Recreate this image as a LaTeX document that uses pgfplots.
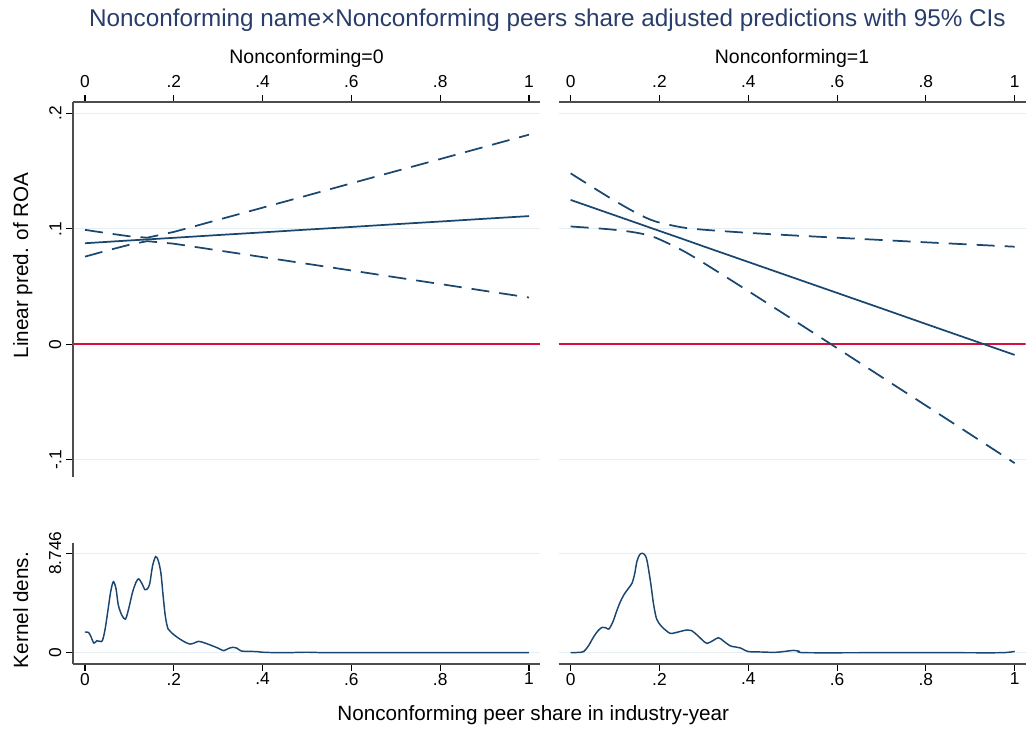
\documentclass[border=0pt]{standalone}
\usepackage{fontspec}
\setmainfont{Liberation Sans}
\usepackage{pgfplots}
\pgfplotsset{compat=1.18}
\definecolor{navy}{HTML}{1A476F}
\definecolor{titlec}{HTML}{293D6B}
\definecolor{zred}{HTML}{D6103B}
\definecolor{gridc}{HTML}{E6EEF1}
\definecolor{axisgray}{HTML}{4D4D4D}

\pgfplotstableread{
x     p       lo      hi
0.00  0.0875  0.0759  0.0991
0.05  0.0887  0.0812  0.0962
0.10  0.0899  0.0862  0.0935
0.14  0.0908  0.0893  0.0923
0.20  0.0922  0.0871  0.0973
0.30  0.0946  0.0813  0.1078
0.40  0.0969  0.0755  0.1183
0.50  0.0993  0.0697  0.1288
0.60  0.1016  0.0639  0.1394
0.70  0.1040  0.0580  0.1499
0.80  0.1063  0.0522  0.1604
0.90  0.1087  0.0463  0.1710
1.00  0.1110  0.0405  0.1815
}\predzero

\pgfplotstableread{
x     p        lo       hi
0.00  0.1250   0.1020   0.1480
0.05  0.1183   0.1007   0.1359
0.10  0.1116   0.0991   0.1241
0.15  0.1049   0.0965   0.1133
0.19  0.0995   0.0925   0.1065
0.25  0.0915   0.0816   0.1013
0.30  0.0847   0.0703   0.0992
0.40  0.0713   0.0461   0.0965
0.50  0.0579   0.0215   0.0943
0.60  0.0445  -0.0033   0.0923
0.70  0.0311  -0.0282   0.0903
0.80  0.0176  -0.0530   0.0883
0.90  0.0042  -0.0779   0.0864
1.00 -0.0092  -0.1029   0.0845
}\predone

\pgfplotstableread{
x      d
0.000  1.82
0.008  1.78
0.013  1.45
0.020  0.85
0.027  1.05
0.033  1.00
0.039  1.05
0.045  2.00
0.052  3.80
0.058  5.40
0.064  6.25
0.070  5.60
0.075  4.20
0.083  3.30
0.091  2.95
0.098  3.80
0.107  5.30
0.115  6.20
0.121  6.50
0.128  6.10
0.135  5.55
0.141  5.65
0.146  6.10
0.152  7.60
0.159  8.45
0.165  8.10
0.171  7.00
0.176  5.00
0.181  3.20
0.187  2.10
0.195  1.75
0.208  1.35
0.222  1.00
0.236  0.76
0.246  0.85
0.256  1.00
0.270  0.85
0.284  0.65
0.300  0.40
0.312  0.18
0.322  0.35
0.332  0.47
0.342  0.40
0.352  0.15
0.370  0.12
0.389  0.09
0.405  0.03
0.450  0.00
0.500  0.04
0.550  0.00
0.700  0.00
0.850  0.00
1.000  0.00
}\kdzero

\pgfplotstableread{
x      d
0.000  0.00
0.015  0.02
0.029  0.09
0.040  0.60
0.052  1.41
0.062  1.95
0.071  2.23
0.079  2.20
0.086  2.08
0.095  2.70
0.104  3.70
0.112  4.49
0.120  5.10
0.129  5.60
0.138  6.10
0.144  6.90
0.149  8.00
0.155  8.60
0.161  8.75
0.167  8.60
0.172  8.10
0.180  6.20
0.187  4.20
0.194  2.93
0.205  2.30
0.215  1.95
0.224  1.70
0.235  1.75
0.250  1.90
0.262  2.00
0.272  1.95
0.285  1.55
0.297  1.10
0.307  0.82
0.320  1.05
0.333  1.32
0.345  1.00
0.360  0.59
0.372  0.50
0.382  0.42
0.393  0.20
0.401  0.09
0.430  0.06
0.460  0.03
0.480  0.10
0.502  0.20
0.515  0.12
0.529  0.00
0.700  0.00
0.850  0.00
0.970  0.00
1.000  0.12
}\kdone

\begin{document}
\begin{tikzpicture}
\path[use as bounding box] (0pt,0pt) rectangle (769.5pt,549pt);
\pgfplotsset{
  stata/.style={
    scale only axis, width=350.25pt, anchor=south west,
    xmin=-0.027, xmax=1.0248,
    xtick={0,0.2,0.4,0.6,0.8,1}, xticklabels={0,.2,.4,.6,.8,1},
    tick align=outside, major tick length=5.25pt,
    tick style={black, line width=0.8pt},
    axis line style={-, draw=axisgray, line width=0.9pt},
    ymajorgrids, major grid style={draw=gridc, line width=1pt},
    ticklabel style={font=\fontsize{13}{14}\selectfont},
    yticklabel style={rotate=90, anchor=south},
  },
  noy/.style={y axis line style={draw=none}, ytick style={draw=none}, yticklabels={}},
  ci/.style={navy, line width=1.3pt, dash pattern=on 13.5pt off 7.5pt},
  est/.style={navy, line width=1.3pt},
}
% top-left
\begin{axis}[stata, at={(54.75pt,191.25pt)}, height=281.25pt,
  ymin=-0.1149, ymax=0.2098, axis x line*=top, axis y line*=left,
  xticklabel shift=2pt,
  ytick={-0.1,0,0.1,0.2}, yticklabels={-.1,0,.1,.2}]
\addplot[zred, line width=1.5pt] coordinates {(-0.027,0) (1.0248,0)};
\addplot[ci] table[x=x,y=hi] {\predzero};
\addplot[ci] table[x=x,y=lo] {\predzero};
\addplot[est] table[x=x,y=p] {\predzero};
\end{axis}
% top-right
\begin{axis}[stata, noy, at={(419pt,191.25pt)}, height=281.25pt,
  ymin=-0.1149, ymax=0.2098, axis x line*=top, axis y line*=left,
  xticklabel shift=2pt,
  ytick={-0.1,0,0.1,0.2}]
\addplot[zred, line width=1.5pt] coordinates {(-0.027,0) (1.0248,0)};
\addplot[ci, smooth] table[x=x,y=hi] {\predone};
\addplot[ci, smooth] table[x=x,y=lo] {\predone};
\addplot[est] table[x=x,y=p] {\predone};
\end{axis}
% kernel left
\begin{axis}[stata, at={(54.75pt,51pt)}, height=90.75pt,
  ymin=-0.994, ymax=9.652, axis x line*=bottom, axis y line*=left,
  xticklabel shift=-2pt,
  ytick={0,8.746}, yticklabels={0,8.746}]
\addplot[est, line width=1.1pt, smooth, tension=0.5] table[x=x,y=d] {\kdzero};
\end{axis}
% kernel right
\begin{axis}[stata, noy, at={(419pt,51pt)}, height=90.75pt,
  ymin=-0.994, ymax=9.652, axis x line*=bottom, axis y line*=left,
  xticklabel shift=-2pt,
  ytick={0,8.746}]
\addplot[est, line width=1.1pt, smooth, tension=0.5] table[x=x,y=d] {\kdone};
\end{axis}
% texts
\node[anchor=base, text=titlec, font=\fontsize{18.2}{20}\selectfont] at (410.6pt,528.75pt)
  {Nonconforming name×Nonconforming peers share adjusted predictions with 95\% CIs};
\node[anchor=base, font=\fontsize{14.6}{16}\selectfont] at (229.9pt,501.4pt) {Nonconforming=0};
\node[anchor=base, font=\fontsize{14.6}{16}\selectfont] at (594pt,501.4pt) {Nonconforming=1};
\node[rotate=90, anchor=base, font=\fontsize{15.5}{17}\selectfont] at (21pt,350pt) {Linear pred. of ROA};
\node[rotate=90, anchor=base, font=\fontsize{15.5}{17}\selectfont] at (21pt,91.5pt) {Kernel dens.};
\node[anchor=base, font=\fontsize{15.5}{17}\selectfont] at (400pt,8.5pt) {Nonconforming peer share in industry-year};
\end{tikzpicture}
\end{document}
